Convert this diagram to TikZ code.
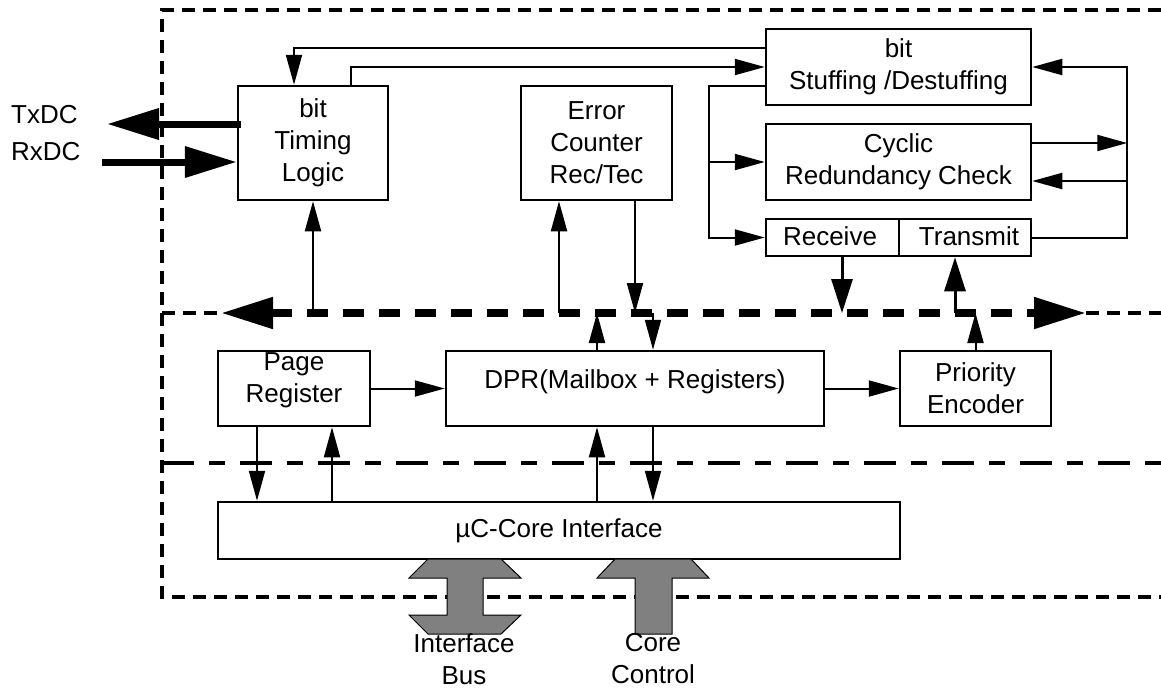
\documentclass[tikz,border=0pt]{standalone}
\usepackage{fontspec}
\setmainfont{Liberation Sans}
\usetikzlibrary{arrows.meta}
\definecolor{arrgray}{RGB}{128,128,128}
\tikzset{
  box/.style={draw, line width=2.5pt, inner sep=0pt, align=center},
  txt/.style={inner sep=0pt, align=center},
  arr/.style={line width=2pt, -{Triangle[length=30pt,width=16pt]}},
  bigarr/.style={line width=3pt, -{Triangle[length=34pt,width=21pt]}},
  fat/.style={line width=7pt},
  fattip/.style={-{Triangle[length=52pt,width=30pt]}},
  border/.style={line width=3.2pt, dash pattern=on 13pt off 8pt},
  longdash/.style={line width=3.2pt, dash pattern=on 32pt off 15pt on 16pt off 15pt},
  busline/.style={line width=8pt, dash pattern=on 21pt off 15pt},
  grayarrow/.style={draw=black, line width=1pt, fill=arrgray},
}
\begin{document}
\begin{tikzpicture}[x=1pt,y=-1pt,font=\fontsize{26}{32}\selectfont]
\useasboundingbox (0,0) rectangle (1161,689);

% frame coordinates
\coordinate (tl) at (162,10);
\coordinate (tr) at (1161,10);
\coordinate (bl) at (162,597);
\coordinate (br) at (1161,597);
\coordinate (ml) at (162,463);
\coordinate (mr) at (1161,463);
\coordinate (bL) at (162,313);
\coordinate (bR) at (1161,313);
\coordinate (busL) at (221,313);
\coordinate (busR) at (1086,313);

\draw[border] (tr) -- (tl) -- (bl) -- (br);
\draw[border] (bL) -- (busL);
\draw[border] (busR) -- (bR);
\draw[longdash] (ml) -- (mr);
\draw[busline, {Triangle[length=52pt,width=30pt]}-{Triangle[length=52pt,width=30pt]}] (busL) -- (busR);

% boxes
\node[box, minimum width=150pt, minimum height=114pt] (tim) at (313,143) {bit\\Timing\\Logic};
\node[box, minimum width=151pt, minimum height=114pt] (err) at (596.5,143) {Error\\Counter\\Rec/Tec};
\node[box, minimum width=265pt, minimum height=76pt] (stuff) at (898.5,67) {bit\\Stuffing /Destuffing};
\node[box, minimum width=265pt, minimum height=76pt] (crc) at (898.5,162) {Cyclic\\Redundancy Check};
\node[box, minimum width=133pt, minimum height=37pt] (rec) at (832.5,237.5) {};
\node[txt] (rectxt) at (830,236.5) {Receive};
\node[box, minimum width=132pt, minimum height=37pt] (trn) at (965,237.5) {};
\node[txt] (trntxt) at (969,236.5) {Transmit};
\node[box, minimum width=152pt, minimum height=75pt] (page) at (294,388.5) {};
\node[txt] (pagetxt) at (294,380) {Page\\Register};
\node[box, minimum width=378pt, minimum height=75pt] (dpr) at (635,388.5) {};
\node[txt] (dprtxt) at (635,382) {DPR(Mailbox + Registers)};
\node[box, minimum width=151pt, minimum height=75pt] (prio) at (975.5,388.5) {Priority\\Encoder};
\node[box, minimum width=682pt, minimum height=57pt] (uc) at (559,530.5) {µC-Core Interface};

% external labels
\node[txt, anchor=west] (txdc) at (11,115) {TxDC};
\node[txt, anchor=west] (rxdc) at (11,152) {RxDC};
\coordinate (txend) at (107,124);
\coordinate (rxstart) at (102,162);
\draw[fat, fattip] ([xshift=4pt,yshift=19pt]tim.west) -- (txend);
\draw[fat, fattip] (rxstart) -- ([yshift=-19pt]tim.west);

% upper connectors
\draw[arr] ([yshift=19pt]stuff.west) -| ([xshift=-19pt]tim.north);
\draw[arr] ([xshift=38pt]tim.north) |- (stuff.west);
\draw[arr] ([yshift=-19pt]stuff.west) -- ++(-56,0) |- (rec.west);
\draw[arr] ([xshift=-56pt]crc.west) -- (crc.west);
\draw[arr] ([yshift=19pt]crc.east) -- ++(95,0);
\draw[arr] ([yshift=-19pt]crc.east) ++(95,0) -- ([yshift=-19pt]crc.east);
\draw[arr] (trn.east) -- ++(95,0) |- (stuff.east);

% helper coordinates
\coordinate (eU) at ([xshift=-37.5pt]err.south);
\coordinate (eD) at ([xshift=38.5pt]err.south);
\coordinate (rD) at ([xshift=9.5pt]rec.south);
\coordinate (tU) at ([xshift=-10pt]trn.south);
\coordinate (dU) at ([xshift=-38pt]dpr.north);
\coordinate (dD) at ([xshift=18pt]dpr.north);
\coordinate (dU2) at ([xshift=-38pt]dpr.south);
\coordinate (dD2) at ([xshift=18pt]dpr.south);
\coordinate (pD) at ([xshift=-37pt]page.south);
\coordinate (pU) at ([xshift=38pt]page.south);

% bus connectors
\draw[arr] (tim.south |- busL) -- (tim.south);
\draw[arr] (eU |- busL) -- (eU);
\draw[arr] (eD) -- (eD |- busL);
\draw[bigarr] (rD) -- (rD |- busL);
\draw[bigarr] (tU |- busL) -- (tU);
\draw[arr] (dU) -- (dU |- busL);
\draw[arr] (dD |- busL) -- (dD);
\draw[arr] (prio.north) -- (prio.north |- busL);

% lower connectors
\draw[arr] (page.east) -- (dpr.west);
\draw[arr] (dpr.east) -- (prio.west);
\draw[arr] (pD) -- (pD |- uc.north);
\draw[arr] (pU |- uc.north) -- (pU);
\draw[arr] (dU2 |- uc.north) -- (dU2);
\draw[arr] (dD2) -- (dD2 |- uc.north);

% gray bus arrows
\draw[grayarrow] (428,559) -- (409,578) -- (447,578) -- (447,615) -- (409,615) -- (428,634)
  -- (501,634) -- (521,615) -- (483,615) -- (483,578) -- (521,578) -- (501,559) -- cycle;
\draw[grayarrow] (615,559) -- (597,578) -- (635,578) -- (635,634) -- (672,634) -- (672,578)
  -- (709,578) -- (691,559) -- cycle;
\node[txt] (ibus) at (464,659) {Interface\\Bus};
\node[txt] (cctl) at (653,659) {Core\\Control};
\end{tikzpicture}
\end{document}
